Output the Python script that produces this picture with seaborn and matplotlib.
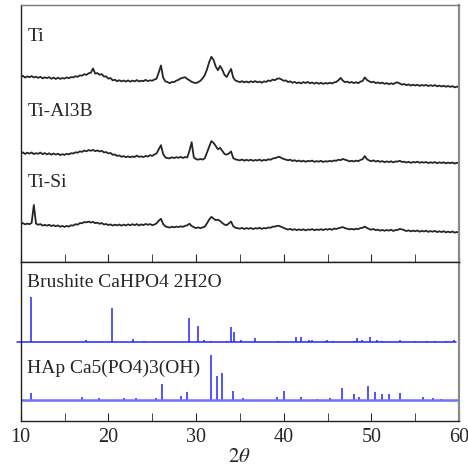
import numpy as np
import pandas as pd
import matplotlib
matplotlib.use("Agg")
import matplotlib.pyplot as plt
import matplotlib.ticker as mticker
import seaborn as sns

# ── data ──────────────────────────────────────────────────────────────────
two_theta = np.linspace(10, 60, 201)          # 0.25 deg sampling

ti = [
    23.0, 24.1, 22.4, 23.6, 22.8, 23.9, 22.5, 23.3, 22.1, 23.2, 21.6, 22.7,
    21.9, 22.8, 21.2, 22.4, 21.0, 22.3, 21.1, 21.9, 21.4, 22.6, 21.8, 22.9,
    22.6, 23.8, 23.1, 24.6, 24.3, 25.8, 25.1, 26.7, 27.2, 31.5, 26.4, 26.9,
    25.2, 25.9, 23.4, 23.6, 21.4, 21.9, 19.6, 20.3, 18.7, 19.8, 18.6, 19.5,
    18.4, 19.6, 18.3, 19.4, 18.6, 19.9, 18.5, 19.3, 18.8, 20.1, 18.9, 19.6,
    19.3, 20.4, 21.3, 27.6, 34.5, 22.4, 18.6, 17.9, 16.8, 18.0, 17.9, 19.4,
    20.1, 21.6, 22.2, 22.8, 21.0, 19.7, 18.1, 17.4, 16.9, 17.8, 19.2, 21.6,
    24.8, 30.6, 37.8, 43.2, 40.1, 33.4, 29.8, 34.0, 30.2, 25.1, 23.0, 27.2,
    31.0, 22.3, 19.4, 18.6, 17.9, 18.8, 17.6, 18.5, 17.5, 18.7, 17.8, 18.9,
    17.7, 18.4, 17.3, 18.6, 18.1, 19.5, 19.0, 20.4, 19.8, 21.2, 21.6, 20.5,
    19.2, 19.6, 17.9, 18.7, 17.2, 18.1, 16.8, 17.6, 16.6, 17.9, 16.9, 18.1,
    16.7, 17.5, 16.3, 17.4, 16.2, 17.3, 16.1, 17.0, 16.4, 17.2, 16.5, 17.6,
    18.0, 19.8, 22.1, 19.3, 17.8, 18.4, 17.2, 18.0, 16.9, 17.8, 16.8, 18.3,
    19.0, 22.6, 20.0, 18.7, 17.6, 18.3, 16.9, 17.5, 16.6, 17.4, 16.1, 16.9,
    15.8, 16.7, 15.9, 17.2, 17.6, 16.4, 15.3, 16.0, 14.8, 15.6, 14.4, 15.3,
    14.5, 15.2, 14.1, 15.0, 14.3, 15.1, 13.9, 14.8, 14.0, 14.9, 13.6, 14.4,
    13.5, 14.3, 13.2, 14.0, 13.1, 13.9, 12.6, 13.4, 12.8,
]

ti_al3b = [
    21.7, 22.6, 21.0, 22.3, 21.4, 22.5, 20.9, 21.8, 21.2, 22.4, 20.8, 21.9,
    20.6, 21.7, 20.3, 21.5, 20.4, 21.3, 19.9, 20.8, 20.1, 21.2, 20.6, 21.8,
    21.5, 22.7, 22.3, 23.6, 23.1, 24.4, 23.7, 24.9, 24.2, 25.1, 23.8, 24.6,
    23.5, 24.2, 22.6, 22.9, 21.6, 22.0, 20.2, 20.5, 19.1, 19.5, 18.2, 18.9,
    17.8, 18.6, 17.7, 18.5, 18.0, 19.4, 18.1, 18.6, 17.9, 19.0, 18.4, 19.8,
    19.1, 20.5, 21.6, 25.8, 29.8, 21.0, 17.5, 16.9, 16.6, 17.7, 16.9, 17.8,
    17.2, 18.1, 17.0, 17.9, 17.5, 24.0, 32.8, 17.6, 15.9, 15.3, 16.0, 15.4,
    16.7, 22.5, 28.4, 33.9, 32.1, 29.0, 25.7, 27.2, 24.1, 21.0, 20.3, 21.5,
    23.5, 16.8, 15.6, 15.1, 14.6, 15.5, 14.3, 15.2, 14.4, 15.3, 14.2, 15.0,
    14.5, 15.4, 14.1, 15.1, 14.6, 15.7, 15.2, 16.5, 16.8, 17.6, 18.3, 16.9,
    16.0, 15.4, 14.7, 15.3, 14.0, 14.8, 13.6, 14.5, 13.4, 14.3, 13.2, 14.1,
    13.7, 14.4, 13.1, 13.9, 13.3, 14.2, 13.0, 13.8, 13.4, 14.1, 13.6, 14.5,
    14.2, 15.3, 14.8, 16.1, 15.2, 14.6, 13.6, 14.2, 13.5, 14.4, 13.8, 15.0,
    15.7, 18.9, 15.8, 14.5, 13.8, 14.6, 13.4, 14.2, 13.1, 13.9, 12.8, 13.6,
    12.9, 13.7, 12.6, 13.5, 13.4, 14.2, 13.0, 13.3, 12.4, 13.2, 12.1, 13.0,
    12.5, 13.3, 12.2, 12.9, 12.3, 13.0, 11.9, 12.7, 12.1, 12.9, 11.8, 12.6,
    12.0, 12.7, 11.6, 12.4, 11.8, 12.5, 11.4, 12.2, 11.7,
]

ti_si = [
    21.0, 21.9, 20.6, 21.4, 20.8, 22.1, 40.0, 21.3, 20.2, 20.9, 19.4, 20.1,
    19.3, 20.2, 18.9, 19.8, 18.7, 19.6, 18.2, 19.1, 18.1, 19.0, 18.4, 19.7,
    19.4, 20.8, 20.3, 21.9, 21.7, 22.9, 22.6, 23.4, 22.4, 23.1, 21.8, 22.3,
    21.2, 21.9, 20.5, 21.0, 19.9, 20.6, 19.4, 20.3, 19.6, 20.5, 19.3, 20.4,
    19.5, 20.6, 19.7, 20.8, 19.8, 20.9, 19.5, 20.6, 19.9, 21.0, 20.2, 20.9,
    19.8, 20.4, 21.6, 24.3, 26.2, 21.0, 18.6, 17.9, 17.4, 18.3, 17.6, 18.4,
    17.9, 18.7, 18.1, 19.2, 19.6, 21.3, 19.0, 17.8, 16.9, 17.6, 16.8, 17.5,
    18.3, 21.6, 25.4, 28.1, 26.4, 24.8, 25.3, 23.9, 22.0, 20.4, 19.8, 21.6,
    23.4, 18.7, 17.2, 16.8, 16.3, 17.1, 16.0, 16.9, 16.2, 17.0, 15.9, 16.8,
    16.4, 17.2, 16.1, 16.9, 16.6, 17.5, 17.2, 18.4, 18.3, 19.2, 19.0, 18.1,
    17.0, 16.2, 15.4, 16.1, 15.0, 15.8, 14.8, 15.6, 14.9, 15.7, 14.6, 15.5,
    15.1, 15.9, 14.7, 15.6, 15.0, 15.8, 14.9, 15.9, 15.3, 16.1, 15.2, 16.4,
    16.0, 16.8, 17.3, 17.9, 16.8, 16.3, 15.6, 16.2, 15.4, 16.3, 15.8, 16.9,
    17.2, 18.4, 17.0, 15.9, 15.3, 16.0, 14.8, 15.4, 14.3, 15.1, 14.2, 15.0,
    14.4, 15.2, 14.0, 14.9, 15.1, 16.0, 15.6, 14.7, 13.9, 14.7, 13.6, 14.4,
    13.7, 14.5, 13.3, 14.1, 13.5, 14.3, 13.1, 13.9, 13.3, 14.1, 12.9, 13.7,
    12.9, 13.8, 12.6, 13.4, 12.6, 13.5, 12.3, 13.0, 12.3,
]

sample_names = ["Ti", "Ti-Al3B", "Ti-Si"]
sample_offsets = [162, 87, 17]

# reference patterns (2theta, relative intensity %)
brushite_pos = [11.14, 17.5, 20.38, 22.78, 24.1, 29.16, 30.23, 30.9, 31.7,
                33.5, 33.96, 34.33, 35.1, 36.73, 39.4, 41.37, 41.94, 42.9,
                43.2, 44.72, 44.98, 45.6, 48.05, 48.35, 48.9, 49.85, 50.6,
                51.25, 53.28, 55.0, 56.3, 57.3, 58.55, 59.4]
brushite_int = [100, 4.5, 77, 6, 2, 53, 37, 5, 2,
                2, 33, 22, 4, 9, 2, 11, 11, 4,
                5, 3, 5, 2, 2, 9, 3.5, 11, 5,
                2, 4, 2, 2, 2, 2, 5]

hap_pos = [11.14, 17.03, 18.9, 21.78, 23.19, 25.4, 26.15, 28.29, 28.93,
           31.67, 32.39, 33.0, 34.22, 35.32, 39.27, 40.0, 41.98, 43.8,
           45.28, 46.62, 48.06, 48.63, 49.58, 50.42, 51.18, 52.0, 53.23,
           55.85, 56.99, 58.0]
hap_int = [16, 6, 4, 4.5, 4.5, 4, 37, 10, 17,
           100, 54, 60, 21, 4.5, 6, 20, 6, 3,
           4, 28, 13, 6, 31, 17, 13, 13, 15,
           6, 4.5, 2.5]

ref_names = ["Brushite CaHPO4 2H2O", "HAp Ca5(PO4)3(OH)"]
ref_baselines = [79, 21]
stick_scale = 0.445

# ── style ─────────────────────────────────────────────────────────────────
sns.set_style("ticks")
plt.rcParams["font.family"] = ["Liberation Serif", "DejaVu Serif"]
plt.rcParams["mathtext.fontset"] = "stix"

fig = plt.figure(figsize=(4.68, 4.70), dpi=100)
ax_top = fig.add_axes([0.0442, 0.4426, 0.9366, 0.5468])
ax_bot = fig.add_axes([0.0442, 0.1043, 0.9366, 0.3383], sharex=ax_top)

# ── sample patterns ───────────────────────────────────────────────────────
traces = pd.DataFrame({"two_theta": two_theta, "Ti": ti,
                       "Ti-Al3B": ti_al3b, "Ti-Si": ti_si})
for name, off in zip(sample_names, sample_offsets):
    sns.lineplot(x=traces["two_theta"], y=traces[name] + off, ax=ax_top,
                 color="#262626", linewidth=1.3, estimator=None, sort=False)

label_y = [225, 150, 79]
for name, y in zip(sample_names, label_y):
    ax_top.text(10.85, y, name, fontsize=14, va="center", ha="left")

ax_top.set_ylim(0, 257)
ax_top.set_yticks([])
ax_top.set_ylabel("")
ax_top.set_xlabel("")
ax_top.tick_params(axis="x", which="both", direction="in", length=6,
                   labelbottom=False)

# ── reference sticks ──────────────────────────────────────────────────────
for pos, inten, base in [(brushite_pos, brushite_int, ref_baselines[0]),
                         (hap_pos, hap_int, ref_baselines[1])]:
    heights = base + np.array(inten) * stick_scale
    ax_bot.vlines(pos, base, heights, color="#2424ff", linewidth=1.1)

ax_bot.plot([9.55, 59.65], [ref_baselines[0]] * 2, color="#2424ff",
            linewidth=1.1, clip_on=False)
ax_bot.axhline(ref_baselines[1], color="#7070ff", linewidth=1.8)

ax_bot.text(10.75, 138, ref_names[0], fontsize=14, va="center", ha="left")
ax_bot.text(10.75, 53, ref_names[1], fontsize=14, va="center", ha="left")

ax_bot.set_ylim(0, 159)
ax_bot.set_yticks([])
ax_bot.set_xlim(10, 60)
ax_bot.xaxis.set_major_locator(mticker.MultipleLocator(10))
ax_bot.xaxis.set_minor_locator(mticker.MultipleLocator(5))
ax_bot.tick_params(axis="x", which="both", direction="in", length=6,
                   labelsize=14.5, pad=5)
ax_bot.set_xlabel(r"$2\theta$", fontsize=15, labelpad=1)

for ax in (ax_top, ax_bot):
    for side in ("left", "bottom", "top"):
        ax.spines[side].set_color("#222222")
        ax.spines[side].set_linewidth(1.0)
    ax.spines["right"].set_color("#8a8a8a")
    ax.spines["right"].set_linewidth(1.6)
    ax.spines["top"].set_visible(True)
    ax.spines["right"].set_visible(True)
ax_top.spines["top"].set_color("#777777")

fig.savefig("out.png", dpi=100)
